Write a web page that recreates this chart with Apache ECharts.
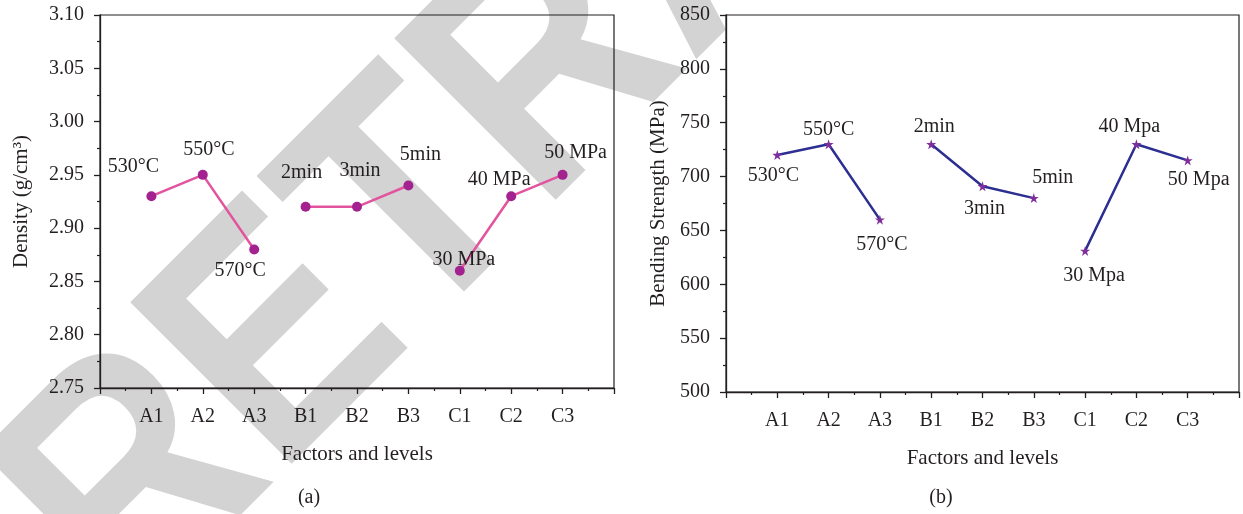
<!DOCTYPE html>
<html><head><meta charset="utf-8">
<script src="https://cdn.jsdelivr.net/npm/echarts@6/dist/echarts.min.js"></script>
<style>html,body{margin:0;padding:0;background:#fff}#c{width:1243px;height:514px}</style>
</head><body><div id="c"></div>
<script>
// ---- data ----
const levels = ['A1','A2','A3','B1','B2','B3','C1','C2','C3'];
const densityNames = ['530°C','550°C','570°C','2min','3min','5min','30 MPa','40 MPa','50 MPa'];
const density = [2.93, 2.95, 2.88, 2.92, 2.92, 2.94, 2.86, 2.93, 2.95];
const strengthNames = ['530°C','550°C','570°C','2min','3min','5min','30 Mpa','40 Mpa','50 Mpa'];
const strength = [720, 730, 660, 730, 691, 680, 631, 730, 715];
const densityTicks = [2.75, 3.10, 0.05];
const strengthTicks = [500, 850, 50];

// ---- layout / style ----
const FONT = 'Liberation Serif';
const TXT = '#231f20';
const AX = '#231f20';
const densOff = [[-18,-29],[6,-25],[-14,21],[-4,-34],[3,-36],[12,-31],[4,-11],[-12,-16],[13,-22]];
const strOff = [[-4,21],[0,-15],[2,25],[3,-18],[2,22],[19,-20],[9,25],[-7,-18],[11,19]];
const STAR = 'path://M50,0 L61.2,34.5 L97.6,34.5 L68.2,55.9 L79.4,90.5 L50,69.1 L20.6,90.5 L31.8,55.9 L2.4,34.5 L38.8,34.5 Z';

function xAx(gi){
  return {type:'value', gridIndex:gi, min:0, max:10, interval:1,
    name:'Factors and levels', nameLocation:'middle', nameGap:56,
    nameTextStyle:{fontFamily:FONT, fontSize:21, color:TXT},
    axisLine:{onZero:false, lineStyle:{color:AX, width:1.3}},
    axisTick:{show:true, inside:false, length:6, lineStyle:{color:AX, width:1.3}},
    minorTick:{show:true, splitNumber:2, length:3, lineStyle:{color:AX, width:1.2}},
    axisLabel:{margin:19, fontFamily:FONT, fontSize:20, color:TXT,
      formatter: v => levels[Math.round(v)-1] || ''},
    splitLine:{show:false}, minorSplitLine:{show:false}};
}
function yAx(gi, ticks, name, gap, dec){
  return {type:'value', gridIndex:gi, min:ticks[0], max:ticks[1], interval:ticks[2],
    name:name, nameLocation:'middle', nameGap:gap, nameRotate:90,
    nameTextStyle:{fontFamily:FONT, fontSize:21, color:TXT},
    axisLine:{onZero:false, lineStyle:{color:AX, width:1.3}},
    axisTick:{show:true, inside:false, length:6, lineStyle:{color:AX, width:1.3}},
    minorTick:{show:true, splitNumber:2, length:3, lineStyle:{color:AX, width:1.2}},
    axisLabel:{margin:16, fontFamily:FONT, fontSize:20, color:TXT,
      formatter: v => v.toFixed(dec)},
    splitLine:{show:false}, minorSplitLine:{show:false}};
}
function groupSeries(gi, values, names, offs, style){
  const out = [];
  for (let g = 0; g < 3; g++){
    const data = [];
    for (let i = g*3; i < g*3+3; i++){
      data.push({value:[i+1, values[i]], label:{formatter:names[i], offset:offs[i]}});
    }
    out.push(Object.assign({type:'line', xAxisIndex:gi, yAxisIndex:gi, data:data, z:5,
      label:{show:true, position:'inside', align:'center', verticalAlign:'middle',
        fontFamily:FONT, fontSize:20, color:TXT},
      emphasis:{disabled:true}, animation:false}, style));
  }
  return out;
}

const chart = echarts.init(document.getElementById('c'), null, {renderer:'canvas'});
chart.setOption({
  backgroundColor:'#fff',
  animation:false,
  grid:[
    {left:100, top:15, width:514, height:373, show:true, borderColor:AX, borderWidth:1.2, containLabel:false, outerBoundsMode:'none'},
    {left:726, top:15, width:513, height:377, show:true, borderColor:AX, borderWidth:1.2, containLabel:false, outerBoundsMode:'none'}
  ],
  xAxis:[xAx(0), xAx(1)],
  yAxis:[yAx(0, densityTicks, 'Density (g/cm³)', 68, 2), yAx(1, strengthTicks, 'Bending Strength (MPa)', 57, 0)],
  series:[].concat(
    groupSeries(0, density, densityNames, densOff, {
      symbol:'circle', symbolSize:10, itemStyle:{color:'#a3228f'},
      lineStyle:{color:'#e2549d', width:2.5}}),
    groupSeries(1, strength, strengthNames, strOff, {
      symbol:STAR, symbolSize:10, itemStyle:{color:'#7e2f9b'},
      lineStyle:{color:'#2c2f91', width:2.5}})
  ),
  graphic:[
    {type:'text', z:-1, x:64, y:562, rotation:Math.PI/4, scaleX:0.88, silent:true,
      style:{text:'RETRACTED', fontFamily:'Liberation Sans', fontWeight:'bold', fontSize:332,
        fill:'#d3d3d3', textAlign:'left', textVerticalAlign:'middle'}},
    {type:'text', x:309, y:498, style:{text:'(a)', fontFamily:FONT, fontSize:20, fill:TXT, textAlign:'center', textVerticalAlign:'middle'}},
    {type:'text', x:941, y:498, style:{text:'(b)', fontFamily:FONT, fontSize:20, fill:TXT, textAlign:'center', textVerticalAlign:'middle'}}
  ]
});
</script>
</body></html>
